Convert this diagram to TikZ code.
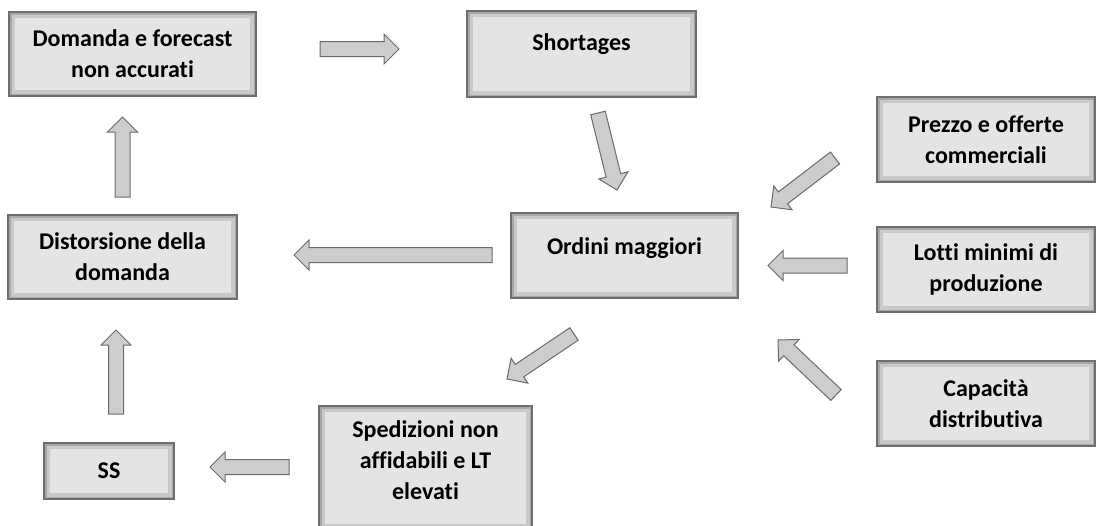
\documentclass[tikz,border=0pt]{standalone}
\usepackage{fontspec}
\setmainfont{Carlito}[Ligatures=NoCommon]
\usetikzlibrary{calc}

\definecolor{boxfill}{HTML}{E4E4E4}
\definecolor{boxline}{HTML}{6E6E6E}
\definecolor{bevel}{HTML}{A8A8A8}
\definecolor{arrowfill}{HTML}{CDCDCD}
\definecolor{arrowline}{HTML}{6A6A6A}

\tikzset{
  box/.style={rectangle, fill=boxfill, draw=boxline, line width=1.6pt,
    inner sep=0pt, align=center,
    font=\fontsize{24}{31}\selectfont\bfseries,
    path picture={
      \draw[boxfill!55!bevel, line width=12pt]
        (path picture bounding box.south west) rectangle (path picture bounding box.north east);
      \draw[bevel, line width=5pt]
        (path picture bounding box.south west) rectangle (path picture bounding box.north east);
    }},
  blockarrow/.style={fill=arrowfill, draw=arrowline, line width=1pt, line join=miter},
}

% block arrow from tail #1 to tip #2
\newcommand\blockarrow[2]{%
  \coordinate (hb) at ($(#2)!15pt!(#1)$);
  \draw[blockarrow]
    ($(#1)!7.5pt!90:(#2)$) -- ($(hb)!7.5pt!90:(#2)$) -- ($(hb)!15pt!90:(#2)$)
    -- (#2)
    -- ($(hb)!15pt!-90:(#2)$) -- ($(hb)!7.5pt!-90:(#2)$) -- ($(#1)!7.5pt!-90:(#2)$)
    -- cycle;
}

\begin{document}
\begin{tikzpicture}[x=1pt,y=-1pt]
\useasboundingbox (0,0) rectangle (1097,525);
\clip (0,0) rectangle (1097,525);

% boxes
\node[box, minimum width=247pt, minimum height=84pt] (dom) at (132.5,54)
  {Domanda e forecast\\non accurati};
\node[box, minimum width=229pt, minimum height=86pt, text height=17pt, text depth=25pt] (short) at (581.5,54)
  {Shortages};
\node[box, minimum width=218pt, minimum height=85pt] (prezzo) at (986,139.5)
  {Prezzo e offerte\\commerciali};
\node[box, minimum width=227pt, minimum height=85pt, text height=16pt, text depth=19pt] (ordini) at (624.5,255.5)
  {Ordini maggiori};
\node[box, minimum width=229pt, minimum height=84pt] (dist) at (122.5,257)
  {Distorsione della\\domanda};
\node[box, minimum width=218pt, minimum height=85pt] (lotti) at (986,269.5)
  {Lotti minimi di\\produzione};
\node[box, minimum width=218pt, minimum height=85pt] (cap) at (986,403.5)
  {Capacità\\distributiva};
\node[box, minimum width=130pt, minimum height=56pt] (ss) at (109,471)
  {SS};
\node[box, minimum width=213pt, minimum height=124pt, text height=78pt, text depth=16pt] (sped) at (425.5,468)
  {Spedizioni non\\affidabili e LT\\elevati};

% arrow end points
\coordinate (domT) at (320,49);      \coordinate (shortH) at (399,49);
\coordinate (distT) at (122.5,197);  \coordinate (domH) at (122.5,117);
\coordinate (ssT) at (116,414);      \coordinate (distH) at (116,330);
\coordinate (ordT) at (492,255);     \coordinate (distL) at (294,255);
\coordinate (spedT) at (289,467);    \coordinate (ssH) at (210,467);
\coordinate (lottiT) at (847,265.5); \coordinate (ordR) at (768,265.5);
\coordinate (prezzoT) at (835,158);  \coordinate (ordP) at (771,207);
\coordinate (capT) at (836,395);     \coordinate (ordC) at (778,340);
\coordinate (shortT) at (598,113);   \coordinate (ordTop) at (617,190);
\coordinate (ordB) at (574,334);     \coordinate (spedH) at (507,379);

% arrows
\blockarrow{domT}{shortH}
\blockarrow{distT}{domH}
\blockarrow{ssT}{distH}
\blockarrow{ordT}{distL}
\blockarrow{spedT}{ssH}
\blockarrow{lottiT}{ordR}
\blockarrow{prezzoT}{ordP}
\blockarrow{capT}{ordC}
\blockarrow{shortT}{ordTop}
\blockarrow{ordB}{spedH}
\end{tikzpicture}
\end{document}
